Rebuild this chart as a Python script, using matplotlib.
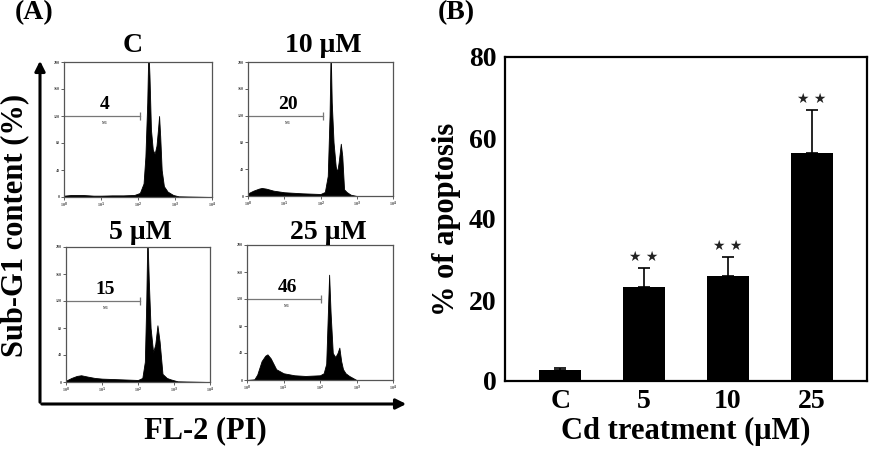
import matplotlib
matplotlib.use("Agg")
import matplotlib.pyplot as plt
import numpy as np

plt.rcParams['font.family'] = ['Liberation Serif', 'DejaVu Serif']
plt.rcParams['font.weight'] = 'bold'

# ---- panel B data ----
groups = ['C', '5', '10', '25']
apoptosis = [2.8, 23.3, 25.9, 56.4]
apoptosis_err = [0.3, 4.7, 4.7, 10.4]
signif = ['', '**', '**', '**']

# ---- panel A data (flow cytometry histograms) ----
# x in decades of FL-2 (10^0 .. 10^4), y as fraction of the count axis
hist_titles = ['C', '10 \u03bcM', '5 \u03bcM', '25 \u03bcM']
subg1 = ['4', '20', '15', '46']
dec_C = [0.0, 0.2, 0.5, 0.8, 1.0, 1.3, 1.6, 1.9, 2.05, 2.15, 2.2, 2.25, 2.28, 2.31,
         2.35, 2.4, 2.45, 2.5, 2.54, 2.57, 2.6, 2.64, 2.7, 2.8, 2.95, 3.1, 4.0]
cnt_C = [0.01, 0.015, 0.015, 0.01, 0.01, 0.012, 0.012, 0.015, 0.03, 0.1, 0.3, 0.7, 1.1, 0.9,
         0.5, 0.35, 0.32, 0.38, 0.5, 0.6, 0.45, 0.2, 0.08, 0.04, 0.015, 0.005, 0.0]
dec_10 = [0.0, 0.15, 0.3, 0.38, 0.5, 0.7, 1.0, 1.5, 2.0, 2.12, 2.2, 2.25, 2.28, 2.31,
          2.36, 2.42, 2.46, 2.5, 2.56, 2.6, 2.65, 2.72, 2.83, 3.0, 4.0]
cnt_10 = [0.02, 0.04, 0.055, 0.06, 0.055, 0.04, 0.028, 0.02, 0.015, 0.03, 0.15, 0.6, 1.1, 0.7,
          0.4, 0.22, 0.18, 0.25, 0.39, 0.3, 0.05, 0.03, 0.01, 0.0, 0.0]
dec_5 = [0.0, 0.15, 0.3, 0.42, 0.6, 0.8, 1.0, 1.5, 2.0, 2.12, 2.19, 2.23, 2.26, 2.3,
         2.35, 2.42, 2.48, 2.54, 2.6, 2.68, 2.8, 2.9, 3.1, 4.0]
cnt_5 = [0.01, 0.03, 0.045, 0.05, 0.04, 0.03, 0.025, 0.02, 0.015, 0.03, 0.15, 0.6, 1.1, 0.75,
         0.4, 0.22, 0.28, 0.42, 0.3, 0.06, 0.03, 0.02, 0.005, 0.0]
dec_25 = [0.0, 0.2, 0.28, 0.4, 0.5, 0.56, 0.65, 0.8, 1.0, 1.3, 1.6, 2.0, 2.1, 2.17,
          2.21, 2.25, 2.29, 2.35, 2.42, 2.48, 2.53, 2.58, 2.63, 2.7, 2.8, 3.0, 4.0]
cnt_25 = [0.0, 0.005, 0.04, 0.14, 0.18, 0.19, 0.16, 0.08, 0.05, 0.035, 0.03, 0.035, 0.05, 0.12,
          0.45, 0.78, 0.5, 0.2, 0.17, 0.2, 0.24, 0.14, 0.08, 0.05, 0.03, 0.0, 0.0]
hist_dec = [dec_C, dec_10, dec_5, dec_25]
hist_cnt = [cnt_C, cnt_10, cnt_5, cnt_25]
marker_end = [2.05, 2.07, 2.05, 2.03]
count_ticks = ['0', '40', '80', '120', '160', '200']
decade_ticks = ['10$^0$', '10$^1$', '10$^2$', '10$^3$', '10$^4$']

W, H = 876, 449
fig = plt.figure(figsize=(W / 100, H / 100), dpi=100)


def box(x0, y0, x1, y1):
    return [x0 / W, 1 - y1 / H, (x1 - x0) / W, (y1 - y0) / H]


# ---------------- panel A ----------------
boxes = [(64, 62, 212, 197), (248, 62, 393, 196), (66, 247, 210, 382), (247, 245, 393, 380)]
title_x = [133, 323, 140, 328]
title_y = [45, 45, 232, 232]
for i in range(4):
    ax = fig.add_axes(box(*boxes[i]))
    d = np.array(hist_dec[i])
    ax.fill_between(10 ** d, hist_cnt[i], 0, color='black', lw=0.6)
    ax.set_xscale('log')
    ax.set_xlim(1, 1e4)
    ax.set_ylim(0, 1)
    ax.set_xticks([1, 10, 100, 1000, 10000])
    ax.set_xticklabels(decade_ticks)
    ax.set_yticks(np.linspace(0, 1, 6))
    ax.set_yticklabels(count_ticks)
    ax.minorticks_off()
    ax.tick_params(labelsize=3, length=2, width=0.6, pad=1, colors='#444444')
    for s in ax.spines.values():
        s.set_linewidth(0.9)
        s.set_color('#555555')
    # M1 marker
    ax.plot([1, 10 ** marker_end[i]], [0.6, 0.6], color='#777777', lw=0.9)
    ax.plot([10 ** marker_end[i]], [0.6], marker='|', ms=6, mew=0.9, color='#777777')
    xm = 10 ** 1.1
    ax.text(xm, 0.62, subg1[i], ha='center', va='bottom', fontsize=14, fontweight='bold')
    ax.text(xm, 0.56, 'M1', ha='center', va='top', fontsize=3, color='#444444')
    fig.text(title_x[i] / W, 1 - title_y[i] / H, hist_titles[i], ha='center', va='center',
             fontsize=20, fontweight='bold')

# big arrows
fig.add_artist(matplotlib.patches.FancyArrowPatch((40 / W, 1 - 405 / H), (40 / W, 1 - 58 / H),
               transform=fig.transFigure, arrowstyle='-|>,head_length=6,head_width=3',
               lw=2.2, color='black', mutation_scale=1))
fig.add_artist(matplotlib.patches.FancyArrowPatch((39 / W, 1 - 404 / H), (409 / W, 1 - 404 / H),
               transform=fig.transFigure, arrowstyle='-|>,head_length=6,head_width=3',
               lw=2.2, color='black', mutation_scale=1))
fig.text(15 / W, 1 - 225 / H, 'Sub-G1 content (%)', rotation=90, ha='center', va='center',
         fontsize=22, fontweight='bold')
fig.text(205 / W, 1 - 431 / H, 'FL-2 (PI)', ha='center', va='center', fontsize=22,
         fontweight='bold')
fig.text(34 / W, 1 - 13 / H, '(A)', ha='center', va='center', fontsize=20, fontweight='bold')
fig.text(456 / W, 1 - 13 / H, '(B)', ha='center', va='center', fontsize=20, fontweight='bold')

# ---------------- panel B ----------------
axb = fig.add_axes(box(505, 57, 867, 381))
xpos = np.arange(len(groups))
axb.bar(xpos, apoptosis, width=0.5, color='black',
        yerr=[np.zeros(len(groups)), apoptosis_err], ecolor='black',
        error_kw=dict(elinewidth=1.2, capsize=4, capthick=1.2))
for xi, v, e, s in zip(xpos, apoptosis, apoptosis_err, signif):
    if s:
        axb.text(xi, v + e + 1.0, '\u2605 \u2605', ha='center', va='bottom', fontsize=10,
                 family=['DejaVu Sans'], fontweight='normal', color='#222222')
axb.set_xlim(-0.66, 3.66)
axb.set_ylim(0, 80)
axb.set_yticks([0, 20, 40, 60, 80])
axb.set_xticks(xpos)
axb.set_xticklabels(groups)
axb.tick_params(length=0, labelsize=20, pad=6)
for s in axb.spines.values():
    s.set_linewidth(1.6)
axb.set_ylabel('% of apoptosis', fontsize=22, fontweight='bold', labelpad=6)
axb.set_xlabel('Cd treatment (\u03bcM)', fontsize=22, fontweight='bold', labelpad=2)

fig.savefig('out.png', dpi=100)
